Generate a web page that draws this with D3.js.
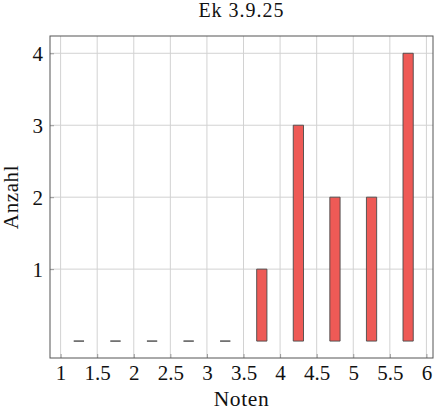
<!DOCTYPE html>
<html>
<head>
<meta charset="utf-8">
<script src="https://cdn.jsdelivr.net/npm/d3@7"></script>
<style>
  body { margin: 0; background: #fff; }
  svg text { font-family: "Liberation Serif", "Times New Roman", serif; fill: #111; }
</style>
</head>
<body>
<div id="chart"></div>
<script>
// Noten (bin centers) and counts
var noten = [1.25, 1.75, 2.25, 2.75, 3.25, 3.75, 4.25, 4.75, 5.25, 5.75];
var anzahl = [0, 0, 0, 0, 0, 1, 3, 2, 2, 4];
var xTicks = [1, 1.5, 2, 2.5, 3, 3.5, 4, 4.5, 5, 5.5, 6];
var yTicks = [1, 2, 3, 4];

var W = 440, H = 412;
var margin = {top: 36, right: 7, bottom: 54, left: 50};
var width = W - margin.left - margin.right,
    height = H - margin.top - margin.bottom;

var svg = d3.select("#chart").append("svg")
    .attr("width", W)
    .attr("height", H);

var g = svg.append("g")
    .attr("transform", "translate(" + margin.left + "," + margin.top + ")");

var x = d3.scaleLinear()
    .domain([0.855, 6.09])
    .range([0, width]);

var y = d3.scaleLinear()
    .domain([-0.235, 4.24])
    .range([height, 0]);

// grid
g.append("g").selectAll("line")
    .data(xTicks).enter().append("line")
    .attr("x1", function (d) { return x(d); })
    .attr("x2", function (d) { return x(d); })
    .attr("y1", 0).attr("y2", height)
    .attr("stroke", "#d2d2d2").attr("stroke-width", 1);

g.append("g").selectAll("line")
    .data(yTicks).enter().append("line")
    .attr("y1", function (d) { return y(d); })
    .attr("y2", function (d) { return y(d); })
    .attr("x1", 0).attr("x2", width)
    .attr("stroke", "#d2d2d2").attr("stroke-width", 1);

var fmt = function (d) { return String(d); };

// axes (labels, ticks inside the frame)
var xAxis = g.append("g")
    .attr("transform", "translate(0," + height + ")")
    .call(d3.axisBottom(x).tickValues(xTicks).tickSize(4).tickFormat(fmt));
xAxis.select(".domain").remove();
xAxis.attr("font-family", null);
xAxis.selectAll("line").attr("y2", -4).attr("stroke", "#999");
xAxis.selectAll("text")
    .attr("y", 21.5).attr("dy", 0)
    .style("font-size", "21px");

var yAxis = g.append("g")
    .call(d3.axisLeft(y).tickValues(yTicks).tickSize(4).tickFormat(fmt));
yAxis.select(".domain").remove();
yAxis.attr("font-family", null);
yAxis.selectAll("line").attr("x2", 4).attr("stroke", "#999");
yAxis.selectAll("text")
    .attr("x", -7).attr("dy", 7.3)
    .style("font-size", "21px");

// bars (paths so that zero counts still show as a flat line)
var barW = x(0.14) - x(0);
g.append("g").selectAll("path")
    .data(noten).enter().append("path")
    .attr("d", function (d, i) {
        var x0 = x(d) - barW / 2, x1 = x(d) + barW / 2;
        var y0 = y(0), y1 = y(anzahl[i]);
        return "M" + x0 + "," + y0 + "V" + y1 + "H" + x1 + "V" + y0 + "Z";
    })
    .attr("fill", "#ee5a56")
    .attr("stroke", "#4a4a4a")
    .attr("stroke-width", 0.9);

// frame
g.append("rect")
    .attr("x", 0).attr("y", 0)
    .attr("width", width).attr("height", height)
    .attr("fill", "none")
    .attr("stroke", "#555").attr("stroke-width", 1);

// title and labels
svg.append("text")
    .attr("x", margin.left + width / 2).attr("y", 16.7)
    .attr("text-anchor", "middle")
    .style("font-size", "20px")
    .style("letter-spacing", "1px")
    .text("Ek 3.9.25");

svg.append("text")
    .attr("x", margin.left + width / 2).attr("y", 405.7)
    .attr("text-anchor", "middle")
    .style("font-size", "21.5px")
    .style("letter-spacing", "0.6px")
    .text("Noten");

svg.append("text")
    .attr("transform", "translate(18," + (margin.top + height / 2) + ") rotate(-90)")
    .attr("text-anchor", "middle")
    .style("font-size", "21px")
    .style("letter-spacing", "0.6px")
    .text("Anzahl");
</script>
</body>
</html>
